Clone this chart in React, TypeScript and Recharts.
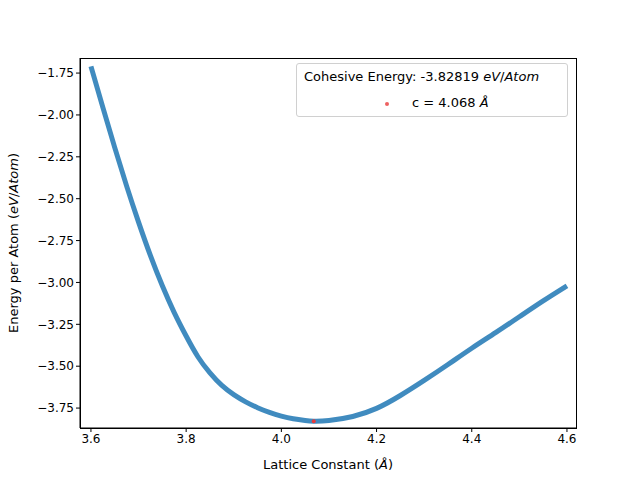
import React from 'react';
import { ComposedChart, Line, Scatter, XAxis, YAxis } from 'recharts';

const latticeX = [3.6,3.625,3.65,3.675,3.7,3.725,3.75,3.775,3.8,3.825,3.85,3.875,3.9,3.925,3.95,3.975,4.0,4.025,4.05,4.068,4.1,4.15,4.2,4.25,4.3,4.35,4.4,4.45,4.5,4.55,4.6];
const energyY = [-1.71,-1.955,-2.195,-2.425,-2.64,-2.84,-3.02,-3.18,-3.32,-3.445,-3.54,-3.615,-3.67,-3.713,-3.748,-3.776,-3.798,-3.814,-3.824,-3.828,-3.824,-3.80,-3.752,-3.675,-3.585,-3.49,-3.393,-3.30,-3.205,-3.11,-3.02];
const minPoint = [{ x: 4.068, y: -3.82819 }];
const xTicks = [3.6,3.8,4.0,4.2,4.4,4.6];
const yTicks = [-1.75,-2.0,-2.25,-2.5,-2.75,-3.0,-3.25,-3.5,-3.75];

const data = latticeX.map((x, i) => ({ x, y: energyY[i] }));
const fmt = (v: number, d: number) => (v < 0 ? '\u2212' + Math.abs(v).toFixed(d) : v.toFixed(d));
const font = 'DejaVu Sans, sans-serif';

export default function App() {
  return (
    <div style={{ position: 'absolute', left: 0, top: 0, width: 640, height: 480, fontFamily: font, background: '#fff' }}>
      <ComposedChart width={640} height={480} data={data} margin={{ top: 58, right: 64, bottom: 22, left: 20 }}>
        <XAxis dataKey="x" type="number" domain={[3.577, 4.619]} ticks={xTicks} tickFormatter={(v) => fmt(v, 1)}
          allowDataOverflow tick={{ fill: '#000', fontSize: 12, fontFamily: font }} stroke="#000" tickSize={4} height={30} />
        <YAxis dataKey="y" type="number" domain={[-3.869, -1.66]} ticks={yTicks} tickFormatter={(v) => fmt(v, 2)}
          allowDataOverflow tick={{ fill: '#000', fontSize: 12, fontFamily: font }} stroke="#000" tickSize={4} width={60} />
        <Line dataKey="y" type="natural" stroke="#1f77b4" strokeOpacity={0.85} strokeWidth={5} dot={false} isAnimationActive={false} />
        <Scatter data={minPoint} dataKey="y" fill="#e83a3a" fillOpacity={0.8} shape={(p: any) => <circle cx={p.cx} cy={p.cy} r={2} fill="#e83a3a" />} isAnimationActive={false} />
      </ComposedChart>
      <div style={{ position: 'absolute', left: 80, top: 58, width: 495, height: 369, border: '1px solid #000', pointerEvents: 'none' }} />
      <div style={{ position: 'absolute', left: 0, top: 458, width: 656, textAlign: 'center', fontSize: 13, color: '#000', lineHeight: '14px' }}>
        Lattice Constant (<i>Å</i>)
      </div>
      <div style={{ position: 'absolute', left: 14, top: 243, width: 300, height: 16, marginLeft: -150, marginTop: -8, transform: 'rotate(-90deg)', textAlign: 'center', fontSize: 13, lineHeight: '16px', color: '#000', whiteSpace: 'nowrap' }}>
        Energy per Atom (<i>eV</i>/<i>Atom</i>)
      </div>
      <div style={{ position: 'absolute', left: 296, top: 63, width: 272, height: 54, border: '1px solid #d0d0d0', borderRadius: 3, background: 'rgba(255,255,255,0.8)', fontSize: 13, color: '#000', boxSizing: 'border-box' }}>
        <div style={{ position: 'absolute', left: 7, top: 5, whiteSpace: 'nowrap' }}>Cohesive Energy: -3.82819 <i>eV</i>/<i>Atom</i></div>
        <div style={{ position: 'absolute', left: 88, top: 38, width: 4, height: 4, borderRadius: 2, background: '#e83a3a', opacity: 0.8 }} />
        <div style={{ position: 'absolute', left: 115, top: 31, whiteSpace: 'nowrap' }}>c = 4.068 <i>Å</i></div>
      </div>
    </div>
  );
}
